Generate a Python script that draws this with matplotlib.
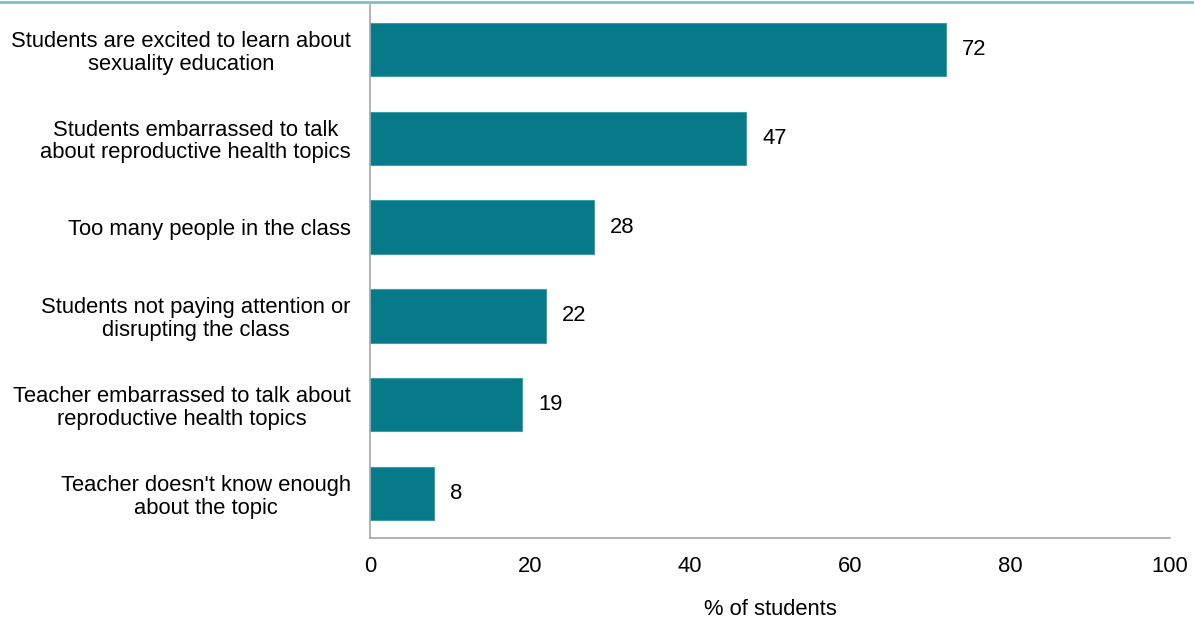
import numpy as np
import matplotlib.pyplot as plt
from matplotlib.lines import Line2D

plt.rcParams['font.family'] = ['Liberation Sans', 'DejaVu Sans']

#data
categories = ["Students are excited to learn about\nsexuality education",
              "Students embarrassed to talk\nabout reproductive health topics",
              "Too many people in the class",
              "Students not paying attention or\ndisrupting the class",
              "Teacher embarrassed to talk about\nreproductive health topics",
              "Teacher doesn't know enough\nabout the topic"]
values = [72, 47, 28, 22, 19, 8]
xticks = [0, 20, 40, 60, 80, 100]

fs = 15.8
fig = plt.figure(figsize=(11.94, 6.23), dpi=100)
ax = fig.add_axes([0.31, 0.1364, 0.67, 0.8556])

y = np.arange(len(categories))
ax.barh(y, values, height=0.6, color='#077A89', edgecolor='#3E9CA6', linewidth=0.8)
for yi, v in zip(y, values):
    ax.text(v + 2, yi, str(v), va='center', ha='left', fontsize=fs)

ax.set_ylim(len(categories) - 0.5, -0.5)
ax.set_xlim(0, 100)
ax.set_yticks(y)
ax.set_yticklabels(categories, fontsize=fs, ha='right', multialignment='center', linespacing=1.1)
ax.set_xticks(xticks)
ax.set_xticklabels([str(t) for t in xticks], fontsize=fs)
ax.tick_params(axis='x', length=0, pad=13)
ax.tick_params(axis='y', length=0, pad=14)
ax.set_xlabel('% of students', fontsize=fs, labelpad=16)

for s in ['top', 'right']:
    ax.spines[s].set_visible(False)
for s in ['left', 'bottom']:
    ax.spines[s].set_color('#A6A6A6')
    ax.spines[s].set_linewidth(1.2)

#top rule
fig.add_artist(Line2D([0, 1], [0.996, 0.996], transform=fig.transFigure, color='#7DC0C5', linewidth=2))

plt.savefig('out.png', dpi=100)
